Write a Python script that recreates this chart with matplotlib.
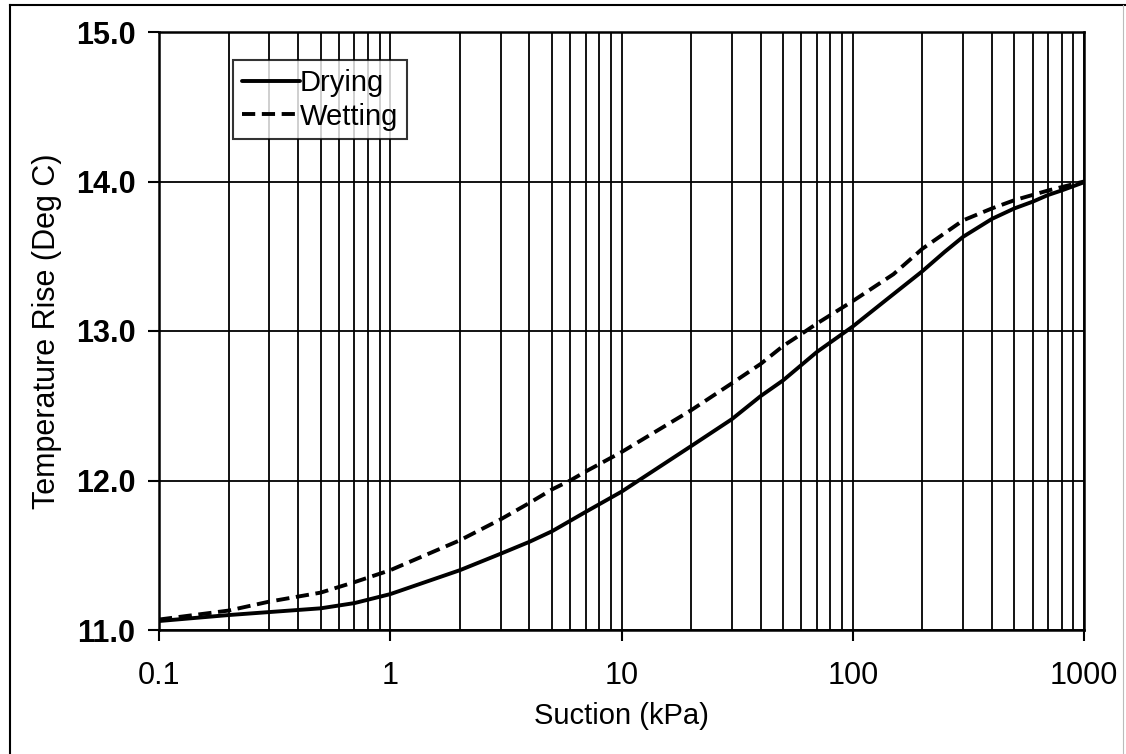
import numpy as np
import matplotlib.pyplot as plt
from matplotlib.lines import Line2D
from matplotlib.ticker import LogLocator, FixedLocator, NullFormatter

# valori
drying_x = [0.1, 0.2, 0.3, 0.5, 0.7, 1, 2, 3, 4, 5, 7, 10, 20, 30, 40, 50, 70, 100,
            140, 200, 250, 300, 400, 500, 600, 700, 800, 1000]
drying_t = [11.06, 11.10, 11.12, 11.145, 11.18, 11.24, 11.40, 11.51, 11.59, 11.66, 11.79,
            11.925, 12.23, 12.41, 12.565, 12.67, 12.86, 13.03, 13.21, 13.40, 13.53, 13.63,
            13.75, 13.82, 13.865, 13.91, 13.94, 13.995]

wetting_x = [0.1, 0.2, 0.3, 0.5, 0.7, 1, 2, 3, 4, 5, 6, 7, 10, 20, 30, 40, 50, 60, 70,
             100, 150, 200, 300, 400, 500, 700, 1000]
wetting_t = [11.07, 11.13, 11.19, 11.25, 11.32, 11.40, 11.60, 11.74, 11.85, 11.94, 12.00,
             12.06, 12.19, 12.47, 12.65, 12.78, 12.90, 12.98, 13.05, 13.20, 13.38, 13.55,
             13.74, 13.82, 13.875, 13.94, 14.00]

y_ticks = [11.0, 12.0, 13.0, 14.0, 15.0]
x_ticks = [0.1, 1, 10, 100, 1000]
x_labels = ['0.1', '1', '10', '100', '1000']

plt.rcParams['font.family'] = ['Liberation Sans', 'DejaVu Sans']

fig = plt.figure(figsize=(11.26, 7.54), dpi=100)
ax = fig.add_axes([159 / 1126, 1 - 630 / 754, 925 / 1126, 598 / 754])

ax.plot(drying_x, drying_t, color='black', lw=2.8, label='Drying', solid_capstyle='round')
ax.plot(wetting_x, wetting_t, color='black', lw=2.8, ls=(0, (3.4, 1.7)), label='Wetting')

ax.set_xscale('log')
ax.set_xlim(0.1, 1000)
ax.set_ylim(11.0, 15.0)

ax.xaxis.set_major_locator(FixedLocator(x_ticks))
ax.set_xticklabels(x_labels)
ax.xaxis.set_minor_locator(LogLocator(base=10, subs=np.arange(2, 10)))
ax.xaxis.set_minor_formatter(NullFormatter())
ax.set_yticks(y_ticks)
ax.set_yticklabels(['%.1f' % v for v in y_ticks], fontweight='bold')

# griglia
ax.grid(True, which='major', axis='both', color='black', lw=1.3)
ax.grid(True, which='minor', axis='x', color='black', lw=1.3)

ax.tick_params(axis='both', which='major', direction='out', length=8, width=1.5,
               colors='black')
ax.tick_params(axis='x', which='major', labelsize=22, pad=14)
ax.tick_params(axis='y', which='major', labelsize=22, pad=9)
ax.tick_params(axis='x', which='minor', length=0)
for s in ax.spines.values():
    s.set_linewidth(1.8)
    s.set_color('black')

ax.set_xlabel('Suction (kPa)', fontsize=21, labelpad=8)
ax.set_ylabel('Temperature Rise (Deg C)', fontsize=22, labelpad=10)

leg = ax.legend(loc='upper left', bbox_to_anchor=(0.08, 0.953), borderaxespad=0,
                fontsize=21, frameon=True, fancybox=False, handlelength=2.0,
                handletextpad=0.0, borderpad=0.3, labelspacing=0.2)
leg.get_frame().set_edgecolor('black')
leg.get_frame().set_linewidth(1.5)

# cornice esterna
fig.add_artist(Line2D([10 / 1126, 10 / 1126], [0, 1 - 5 / 754], color='black', lw=1.5,
                      transform=fig.transFigure))
fig.add_artist(Line2D([10 / 1126, 1], [1 - 5 / 754, 1 - 5 / 754], color='black', lw=1.5,
                      transform=fig.transFigure))
fig.add_artist(Line2D([1123 / 1126, 1123 / 1126], [0, 1 - 5 / 754], color='#bbbbbb', lw=0.8,
                      transform=fig.transFigure))

fig.savefig('out.png', dpi=100)
